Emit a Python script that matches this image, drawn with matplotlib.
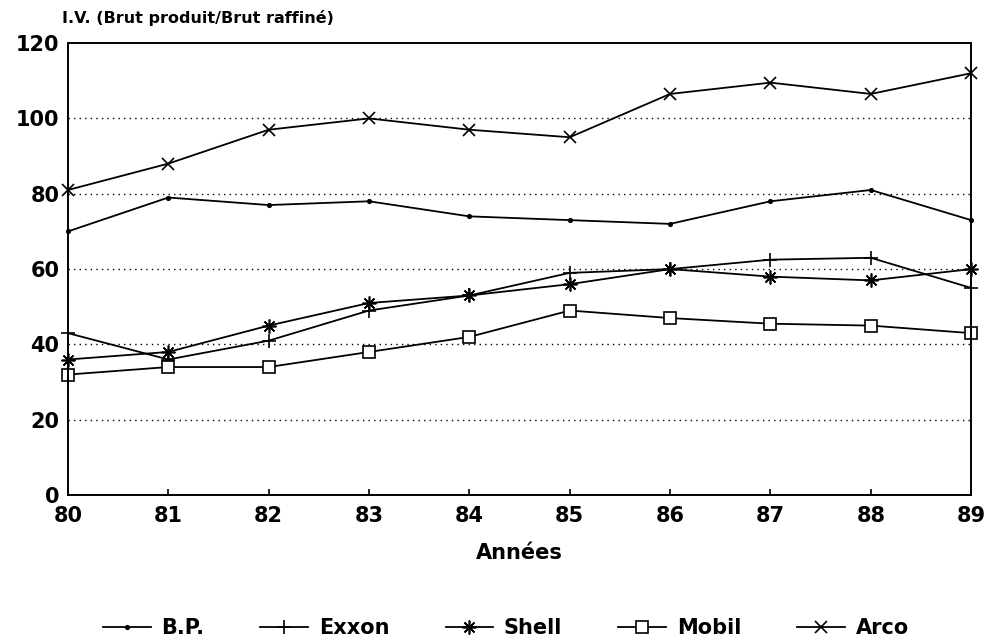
import matplotlib.pyplot as plt
import numpy as np

# Data
years = [80, 81, 82, 83, 84, 85, 86, 87, 88, 89]
bp = [70, 79, 77, 78, 74, 73, 72, 78, 81, 73]
exxon = [43, 36, 41, 49, 53, 59, 60, 62.5, 63, 55]
shell = [36, 38, 45, 51, 53, 56, 60, 58, 57, 60]
mobil = [32, 34, 34, 38, 42, 49, 47, 45.5, 45, 43]
arco = [81, 88, 97, 100, 97, 95, 106.5, 109.5, 106.5, 112]

labels = ['B.P.', 'Exxon', 'Shell', 'Mobil', 'Arco']
series = [bp, exxon, shell, mobil, arco]
markers = ['.', '+', (8, 2, 0), 's', 'x']
sizes = [5, 10, 10, 9, 9]

plt.rcParams['font.family'] = ['DejaVu Sans']
plt.rcParams['font.weight'] = 'bold'

fig = plt.figure(figsize=(9.92, 6.43), dpi=100)
ax = fig.add_axes([0.0685, 0.230, 0.9105, 0.703])

for y, lab, m, s in zip(series, labels, markers, sizes):
    ax.plot(years, y, color='black', linewidth=1.3, marker=m, markersize=s,
            markerfacecolor='white' if m == 's' else 'black',
            markeredgecolor='black', markeredgewidth=1.2, label=lab,
            clip_on=False)

ax.set_xlim(80, 89)
ax.set_ylim(0, 120)
ax.set_xticks(years)
ax.set_yticks(np.arange(0, 121, 20))
ax.tick_params(axis='x', labelsize=15, direction='in', length=4, width=1.2, pad=8)
ax.tick_params(axis='y', labelsize=15, length=0, pad=6)
for lbl in ax.get_xticklabels() + ax.get_yticklabels():
    lbl.set_fontweight('bold')

for v in [20, 40, 60, 80, 100]:
    ax.axhline(v, color='black', linestyle=(0, (1, 3)), linewidth=1)

for sp in ax.spines.values():
    sp.set_linewidth(1.4)

ax.set_xlabel('Années', fontsize=15, fontweight='bold', labelpad=12)
fig.text(0.062, 0.972, 'I.V. (Brut produit/Brut raffiné)', fontsize=11.5,
         fontweight='bold', ha='left', va='center')

fig.legend(loc='center', bbox_to_anchor=(0.51, 0.023), ncol=5, frameon=False,
           fontsize=15, handlelength=2.3, columnspacing=2.7, handletextpad=0.5)

fig.savefig('out.png', dpi=100)
